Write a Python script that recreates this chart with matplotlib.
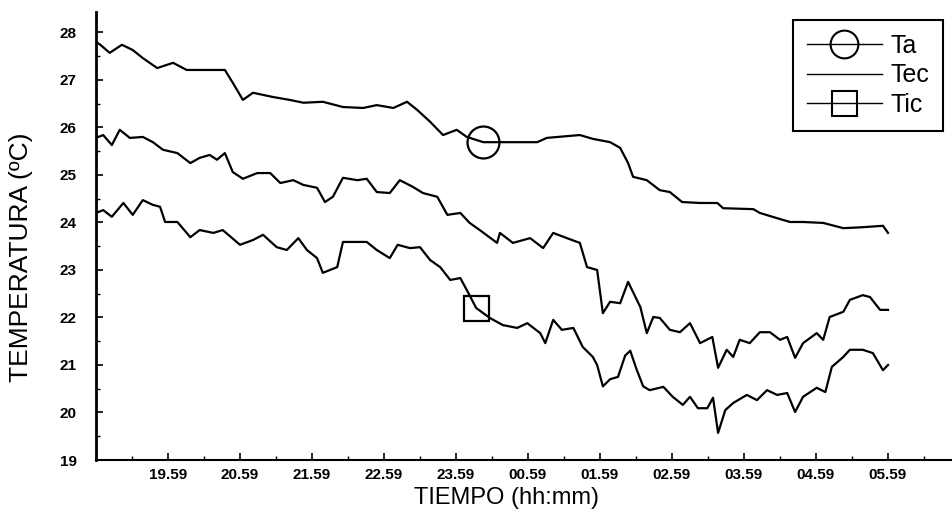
import numpy as np
import matplotlib
matplotlib.use("Agg")
import matplotlib.pyplot as plt
from matplotlib.lines import Line2D
from matplotlib.ticker import MultipleLocator

plt.rcParams['font.family'] = ['Liberation Sans', 'DejaVu Sans']

# time in hours after 18:59, temperature in degC
ta_t = [0.00, 0.06, 0.19, 0.36, 0.51, 0.65, 0.85, 1.07, 1.26, 1.54, 1.79, 1.90, 2.04, 2.18,
        2.46, 2.69, 2.88, 3.15, 3.43, 3.71, 3.90, 4.13, 4.32, 4.46, 4.64, 4.82, 5.01, 5.15,
        5.38, 5.64, 6.13, 6.26, 6.72, 6.90, 7.14, 7.28, 7.39, 7.46, 7.65, 7.83, 7.97, 8.14,
        8.39, 8.63, 8.71, 9.13, 9.22, 9.46, 9.64, 9.82, 10.10, 10.38, 10.65, 10.93, 11.00]
ta_v = [27.80, 27.74, 27.57, 27.74, 27.63, 27.46, 27.25, 27.36, 27.21, 27.21, 27.21, 26.94,
        26.58, 26.73, 26.64, 26.58, 26.52, 26.54, 26.43, 26.41, 26.47, 26.41, 26.54, 26.37,
        26.12, 25.84, 25.95, 25.80, 25.69, 25.69, 25.69, 25.78, 25.84, 25.76, 25.69, 25.57,
        25.25, 24.96, 24.89, 24.68, 24.64, 24.43, 24.41, 24.41, 24.30, 24.28, 24.20, 24.09,
        24.01, 24.01, 23.99, 23.88, 23.90, 23.93, 23.78]

tec_t = [0.00, 0.10, 0.22, 0.33, 0.47, 0.65, 0.79, 0.93, 1.13, 1.31, 1.44, 1.58, 1.68, 1.79,
         1.90, 2.04, 2.24, 2.42, 2.56, 2.74, 2.88, 3.07, 3.18, 3.29, 3.43, 3.63, 3.76, 3.90,
         4.08, 4.22, 4.40, 4.54, 4.74, 4.88, 5.06, 5.19, 5.33, 5.57, 5.61, 5.79, 6.03, 6.21,
         6.35, 6.54, 6.72, 6.82, 6.96, 7.04, 7.14, 7.28, 7.39, 7.56, 7.65, 7.74, 7.83, 7.97,
         8.11, 8.25, 8.39, 8.56, 8.64, 8.76, 8.85, 8.94, 9.08, 9.22, 9.36, 9.50, 9.60, 9.71,
         9.82, 10.01, 10.10, 10.19, 10.38, 10.47, 10.65, 10.75, 10.89, 11.00]
tec_v = [25.78, 25.84, 25.63, 25.95, 25.78, 25.80, 25.69, 25.53, 25.46, 25.25, 25.36, 25.42,
         25.32, 25.46, 25.06, 24.92, 25.04, 25.04, 24.83, 24.89, 24.79, 24.73, 24.43, 24.54,
         24.94, 24.89, 24.92, 24.64, 24.62, 24.89, 24.75, 24.62, 24.54, 24.16, 24.20, 23.99,
         23.84, 23.57, 23.78, 23.57, 23.67, 23.46, 23.78, 23.67, 23.57, 23.06, 23.00, 22.09,
         22.33, 22.30, 22.75, 22.22, 21.67, 22.01, 21.99, 21.74, 21.69, 21.88, 21.46, 21.59,
         20.94, 21.32, 21.17, 21.53, 21.46, 21.69, 21.69, 21.53, 21.59, 21.15, 21.46, 21.67,
         21.53, 22.01, 22.12, 22.37, 22.47, 22.43, 22.16, 22.16]

tic_t = [0.00, 0.10, 0.22, 0.38, 0.51, 0.65, 0.79, 0.89, 0.96, 1.13, 1.31, 1.44, 1.63, 1.76,
         2.00, 2.18, 2.32, 2.51, 2.65, 2.81, 2.93, 3.07, 3.15, 3.35, 3.43, 3.76, 3.90, 4.08,
         4.19, 4.36, 4.50, 4.64, 4.78, 4.92, 5.06, 5.17, 5.28, 5.47, 5.65, 5.85, 5.99, 6.17,
         6.24, 6.35, 6.47, 6.63, 6.76, 6.90, 6.96, 7.04, 7.14, 7.25, 7.35, 7.42, 7.51, 7.60,
         7.69, 7.88, 8.01, 8.15, 8.25, 8.36, 8.49, 8.57, 8.64, 8.74, 8.85, 9.04, 9.18, 9.32,
         9.46, 9.60, 9.71, 9.82, 10.01, 10.13, 10.22, 10.38, 10.47, 10.65, 10.79, 10.93, 11.00]
tic_v = [24.20, 24.26, 24.12, 24.41, 24.16, 24.47, 24.37, 24.33, 24.01, 24.01, 23.69, 23.84,
         23.78, 23.84, 23.53, 23.63, 23.74, 23.48, 23.42, 23.67, 23.42, 23.25, 22.94, 23.06,
         23.59, 23.59, 23.42, 23.25, 23.53, 23.46, 23.48, 23.21, 23.06, 22.79, 22.83, 22.52,
         22.20, 21.99, 21.84, 21.78, 21.88, 21.67, 21.46, 21.95, 21.74, 21.78, 21.38, 21.17,
         21.00, 20.55, 20.70, 20.75, 21.20, 21.30, 20.90, 20.55, 20.47, 20.54, 20.33, 20.16,
         20.33, 20.09, 20.09, 20.31, 19.57, 20.05, 20.20, 20.37, 20.26, 20.47, 20.37, 20.41,
         20.01, 20.33, 20.52, 20.43, 20.96, 21.17, 21.32, 21.32, 21.25, 20.89, 21.00]

# where the symbols sit on the curves
ta_mark = 5.38
tic_mark = 5.28

x_ticks = [1, 2, 3, 4, 5, 6, 7, 8, 9, 10, 11]
x_labels = ['19.59', '20.59', '21.59', '22.59', '23.59', '00.59',
            '01.59', '02.59', '03.59', '04.59', '05.59']
y_ticks = [19, 20, 21, 22, 23, 24, 25, 26, 27, 28]

fig = plt.figure(figsize=(9.53, 5.25), dpi=100)
ax = fig.add_axes([96/953, 65/525, 1 - 96/953, 448/525])

i_ta = int(np.argmin(np.abs(np.array(ta_t) - ta_mark)))
i_tic = int(np.argmin(np.abs(np.array(tic_t) - tic_mark)))

ax.plot(ta_t, ta_v, color='black', lw=1.6, marker='o', markevery=[i_ta],
        ms=23, mfc='none', mec='black', mew=1.6)
ax.plot(tec_t, tec_v, color='black', lw=1.6)
ax.plot(tic_t, tic_v, color='black', lw=1.6, marker='s', markevery=[i_tic],
        ms=18, mfc='none', mec='black', mew=1.6)

ax.set_xlim(0, (953 - 96) / 72)
ax.set_ylim(19, 28.43)

ax.set_xticks(x_ticks)
ax.set_xticklabels(x_labels)
ax.set_yticks(y_ticks)
ax.xaxis.set_minor_locator(MultipleLocator(0.5))
ax.yaxis.set_minor_locator(MultipleLocator(0.5))
ax.tick_params(which='major', direction='in', length=5, width=1.2,
               labelsize=11, pad=6)
ax.tick_params(which='minor', direction='in', length=3, width=1)
for lab in ax.get_xticklabels() + ax.get_yticklabels():
    lab.set_fontweight('bold')
ax.tick_params(axis='y', pad=14)

ax.spines['top'].set_visible(False)
ax.spines['right'].set_visible(False)
ax.spines['left'].set_linewidth(2)
ax.spines['bottom'].set_linewidth(1.5)

ax.set_ylabel('TEMPERATURA (ºC)', fontsize=19)
ax.yaxis.set_label_coords((33 - 96) / 857, (460 - 257) / 448)
ax.set_xlabel('TIEMPO (hh:mm)', fontsize=17)
ax.xaxis.set_label_coords((507 - 96) / 857, (460 - 487) / 448)

handles = [Line2D([], [], color='black', lw=1, marker='o', ms=20, mfc='none', mew=1.5),
           Line2D([], [], color='black', lw=1),
           Line2D([], [], color='black', lw=1, marker='s', ms=18, mfc='none', mew=1.5)]
leg = fig.legend(handles, ['Ta', 'Tec', 'Tic'], loc='upper right',
                 bbox_to_anchor=(943/953, 1 - 20/525), fontsize=18,
                 handlelength=3.0, handletextpad=0.35, labelspacing=0.22,
                 borderpad=0.55, borderaxespad=0, fancybox=False,
                 edgecolor='black', framealpha=1)
leg.get_frame().set_linewidth(1.5)

plt.savefig('out.png', dpi=100)
